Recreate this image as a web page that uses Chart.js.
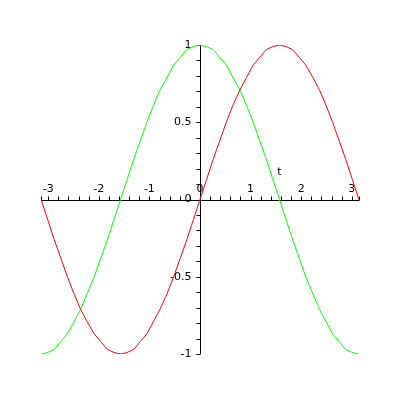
<!DOCTYPE html>
<html>
<head>
<meta charset="utf-8">
<script src="https://cdn.jsdelivr.net/npm/chart.js@4/dist/chart.umd.min.js"></script>
<style>
  html, body { margin: 0; padding: 0; background: #fff; }
  canvas { display: block; }
</style>
</head>
<body>
<canvas id="plot" width="400" height="400"></canvas>
<script>
// sample points
const tVals = [-3.14, -3.01, -2.88, -2.75, -2.62, -2.49, -2.36, -2.23, -2.09, -1.96, -1.83, -1.70,
  -1.57, -1.44, -1.31, -1.18, -1.05, -0.92, -0.79, -0.65, -0.52, -0.39, -0.26, -0.13,
  0, 0.13, 0.26, 0.39, 0.52, 0.65, 0.79, 0.92, 1.05, 1.18, 1.31, 1.44,
  1.57, 1.70, 1.83, 1.96, 2.09, 2.23, 2.36, 2.49, 2.62, 2.75, 2.88, 3.01, 3.14];
const redVals = [0, -0.13, -0.26, -0.38, -0.50, -0.61, -0.71, -0.79, -0.87, -0.92, -0.97, -0.99,
  -1.00, -0.99, -0.97, -0.92, -0.87, -0.79, -0.71, -0.61, -0.50, -0.38, -0.26, -0.13,
  0, 0.13, 0.26, 0.38, 0.50, 0.61, 0.71, 0.79, 0.87, 0.92, 0.97, 0.99,
  1.00, 0.99, 0.97, 0.92, 0.87, 0.79, 0.71, 0.61, 0.50, 0.38, 0.26, 0.13, 0];
const greenVals = [-1.00, -0.99, -0.97, -0.92, -0.87, -0.79, -0.71, -0.61, -0.50, -0.38, -0.26, -0.13,
  0, 0.13, 0.26, 0.38, 0.50, 0.61, 0.71, 0.79, 0.87, 0.92, 0.97, 0.99,
  1.00, 0.99, 0.97, 0.92, 0.87, 0.79, 0.71, 0.61, 0.50, 0.38, 0.26, 0.13,
  0, -0.13, -0.26, -0.38, -0.50, -0.61, -0.71, -0.79, -0.87, -0.92, -0.97, -0.99, -1.00];

// axis ticks and labels
const xTicks = [-3.14, -3.0, -2.8, -2.6, -2.4, -2.2, -2.0, -1.8, -1.6, -1.4, -1.2, -1.0, -0.8, -0.6, -0.4, -0.2,
  0.2, 0.4, 0.6, 0.8, 1.0, 1.2, 1.4, 1.6, 1.8, 2.0, 2.2, 2.4, 2.6, 2.8, 3.0, 3.14];
const xLabelVals = [-3, -2, -1, 0, 1, 2, 3];
const xLabels = ['-3', '-2', '-1', '0', '1', '2', '3'];
const yTicks = [-1.0, -0.9, -0.8, -0.7, -0.6, -0.5, -0.4, -0.3, -0.2, -0.1,
  0.1, 0.2, 0.3, 0.4, 0.5, 0.6, 0.7, 0.8, 0.9, 1.0];
const yLabelVals = [1, 0.5, 0, -0.5, -1];
const yLabels = ['1', '0.5', '0', '-0.5', '-1'];
const axisName = 't';

function toPoints(xs, ys) {
  return xs.map((x, i) => ({ x: x, y: ys[i] }));
}

const FONT = '11px "DejaVu Sans", sans-serif';

// axes crossing at the origin, ticks above / left like the original
const crossAxes = {
  id: 'crossAxes',
  beforeDatasetsDraw(chart) {
    const ctx = chart.ctx;
    const xs = chart.scales.x, ys = chart.scales.y;
    const x0 = Math.round(xs.getPixelForValue(0)) + 0.5;
    const y0 = Math.round(ys.getPixelForValue(0)) + 0.5;
    ctx.save();
    ctx.strokeStyle = '#000';
    ctx.lineWidth = 1;
    ctx.beginPath();
    ctx.moveTo(xs.left, y0); ctx.lineTo(xs.right, y0);
    ctx.moveTo(x0, ys.top); ctx.lineTo(x0, ys.bottom);
    xTicks.forEach(v => {
      const px = Math.round(xs.getPixelForValue(v)) + 0.5;
      ctx.moveTo(px, y0); ctx.lineTo(px, y0 - 4);
    });
    yTicks.forEach(v => {
      const py = Math.round(ys.getPixelForValue(v)) + 0.5;
      ctx.moveTo(x0, py); ctx.lineTo(x0 - 4, py);
    });
    ctx.stroke();

    ctx.fillStyle = '#000';
    ctx.font = FONT;
    ctx.textAlign = 'center';
    ctx.textBaseline = 'alphabetic';
    xLabelVals.forEach((v, i) => {
      ctx.fillText(xLabels[i], xs.getPixelForValue(v), y0 - 9);
    });
    ctx.textAlign = 'right';
    ctx.textBaseline = 'middle';
    yLabelVals.forEach((v, i) => {
      ctx.fillText(yLabels[i], x0 - 9, ys.getPixelForValue(v));
    });
    ctx.textAlign = 'center';
    ctx.fillText(axisName, xs.getPixelForValue(1.57), ys.getPixelForValue(0.18));
    ctx.restore();
  }
};

const chart = new Chart(document.getElementById('plot').getContext('2d'), {
  type: 'scatter',
  data: {
    datasets: [
      { data: toPoints(tVals, redVals), borderColor: '#ff0000', borderWidth: 1, showLine: true,
        pointRadius: 0, tension: 0, fill: false },
      { data: toPoints(tVals, greenVals), borderColor: '#00ff00', borderWidth: 1, showLine: true,
        pointRadius: 0, tension: 0, fill: false }
    ]
  },
  options: {
    responsive: false,
    animation: false,
    devicePixelRatio: 1,
    layout: { padding: { left: 41, right: 41, top: 45, bottom: 46 } },
    plugins: { legend: { display: false }, tooltip: { enabled: false } },
    scales: {
      x: { type: 'linear', min: -3.1416, max: 3.1416, display: false },
      y: { type: 'linear', min: -1, max: 1, display: false }
    }
  },
  plugins: [crossAxes]
});
</script>
</body>
</html>
